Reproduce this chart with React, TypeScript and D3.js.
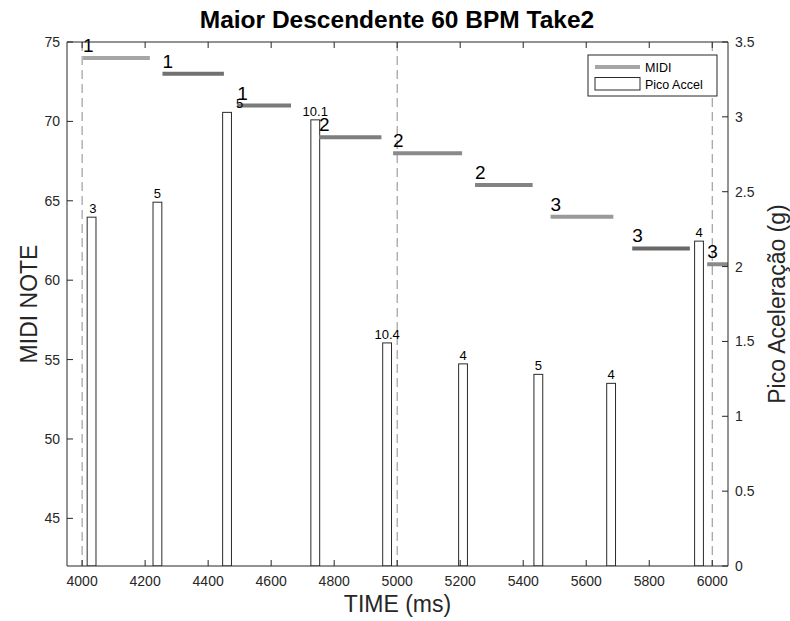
import React from "react";
import * as d3 from "d3";

// ---- data ----
const midiStart = [4003, 4255, 4492, 4752, 4987, 5247, 5487, 5746, 5984];
const midiEnd = [4215, 4450, 4663, 4950, 5206, 5430, 5686, 5929, 6200];
const midiNote = [74, 73, 71, 69, 68, 66, 64, 62, 61];
const midiLabel = ["1", "1", "1", "2", "2", "2", "3", "3", "3"];
const midiGray = ["#a6a6a6", "#717171", "#7a7a7a", "#7e7e7e", "#8a8a8a", "#838383", "#999999", "#686868", "#8a8a8a"];

const accelTime = [4030, 4239, 4460, 4740, 4968, 5209, 5448, 5679, 5958];
const accelPeak = [2.33, 2.43, 3.03, 2.98, 1.49, 1.35, 1.28, 1.22, 2.17];
const accelLabel = ["3", "5", "5", "10.1", "10.4", "4", "5", "4", "4"];
const accelLabelTime = [4034, 4239, 4500, 4740, 4968, 5209, 5448, 5679, 5958];
const barWidthMs = 28;

const xTicks = [4000, 4200, 4400, 4600, 4800, 5000, 5200, 5400, 5600, 5800, 6000];
const yLeftTicks = [45, 50, 55, 60, 65, 70, 75];
const yRightTicks = [0, 0.5, 1, 1.5, 2, 2.5, 3, 3.5];
const dashedTimes = [4000, 5000, 6000];

const title = "Maior Descendente 60 BPM Take2";

export default function App() {
  const W = 790, H = 621;
  const L = 67, R = 728, T = 42, B = 566;
  const x = d3.scaleLinear().domain([3952, 6050]).range([L, R]);
  const yL = d3.scaleLinear().domain([42, 75]).range([B, T]);
  const yR = d3.scaleLinear().domain([0, 3.5]).range([B, T]);
  const font = "'Liberation Sans', Arial, Helvetica, sans-serif";
  const axisColor = "#262626";
  const tick = 6;

  return (
    <svg width={W} height={H} style={{ position: "absolute", left: 0, top: 0, background: "#fff" }} fontFamily={font}>
      <defs>
        <clipPath id="plotClip">
          <rect x={L} y={T} width={R - L} height={B - T} />
        </clipPath>
      </defs>
      <rect x={0} y={0} width={W} height={H} fill="#fff" />
      <g clipPath="url(#plotClip)">
        {dashedTimes.map((t, i) => (
          <line key={"d" + i} x1={x(t)} x2={x(t)} y1={T} y2={B} stroke="#8c8c8c" strokeWidth={1} strokeDasharray="9,5" />
        ))}
        {accelTime.map((t, i) => (
          <rect key={"b" + i} x={x(t - barWidthMs / 2)} y={yR(accelPeak[i])} width={x(t + barWidthMs / 2) - x(t - barWidthMs / 2)} height={yR(0) - yR(accelPeak[i])} fill="#fff" stroke="#2a2a2a" strokeWidth={1} />
        ))}
        {midiStart.map((s, i) => (
          <line key={"m" + i} x1={x(s)} x2={x(midiEnd[i])} y1={yL(midiNote[i])} y2={yL(midiNote[i])} stroke={midiGray[i]} strokeWidth={4} />
        ))}
      </g>
      {accelTime.map((t, i) => (
        <text key={"bl" + i} x={x(accelLabelTime[i])} y={yR(accelPeak[i]) - 4} textAnchor="middle" fontSize={13} fill="#000">
          {accelLabel[i]}
        </text>
      ))}
      {midiStart.map((s, i) => (
        <text key={"ml" + i} x={x(s)} y={yL(midiNote[i]) - 6} fontSize={19} fill="#000">
          {midiLabel[i]}
        </text>
      ))}
      {/* axes box */}
      <line x1={L} x2={R} y1={B} y2={B} stroke={axisColor} />
      <line x1={L} x2={R} y1={T} y2={T} stroke={axisColor} />
      <line x1={L} x2={L} y1={T} y2={B} stroke={axisColor} />
      <line x1={R} x2={R} y1={T} y2={B} stroke={axisColor} />
      {xTicks.map((t) => (
        <g key={"xt" + t}>
          <line x1={x(t)} x2={x(t)} y1={B} y2={B - tick} stroke={axisColor} />
          <line x1={x(t)} x2={x(t)} y1={T} y2={T + tick} stroke={axisColor} />
          <text x={x(t)} y={B + 20} textAnchor="middle" fontSize={14} fill={axisColor}>{t}</text>
        </g>
      ))}
      {yLeftTicks.map((t) => (
        <g key={"yl" + t}>
          <line x1={L} x2={L + tick} y1={yL(t)} y2={yL(t)} stroke={axisColor} />
          <text x={L - 7} y={yL(t) + 5} textAnchor="end" fontSize={14} fill={axisColor}>{t}</text>
        </g>
      ))}
      {yRightTicks.map((t) => (
        <g key={"yr" + t}>
          <line x1={R} x2={R - tick} y1={yR(t)} y2={yR(t)} stroke={axisColor} />
          <text x={R + 7} y={yR(t) + 5} textAnchor="start" fontSize={14} fill={axisColor}>{t}</text>
        </g>
      ))}
      {/* legend */}
      <g>
        <rect x={588} y={55} width={129} height={41} fill="#fff" stroke={axisColor} strokeWidth={1} />
        <line x1={595} x2={640} y1={67} y2={67} stroke="#a6a6a6" strokeWidth={4} />
        <text x={645} y={71.5} fontSize={12.5} fill="#000">MIDI</text>
        <rect x={595} y={77.5} width={45} height={12.5} fill="#fff" stroke="#2a2a2a" />
        <text x={645} y={88.5} fontSize={12.5} fill="#000">Pico Accel</text>
      </g>
      {/* titles */}
      <text x={397} y={28} textAnchor="middle" fontSize={24.5} fontWeight="bold" fill="#000">{title}</text>
      <text x={(L + R) / 2} y={612} textAnchor="middle" fontSize={23} fill={axisColor}>TIME (ms)</text>
      <text transform={`translate(37,${(T + B) / 2}) rotate(-90)`} textAnchor="middle" fontSize={23} fill={axisColor}>MIDI NOTE</text>
      <text transform={`translate(785,${(T + B) / 2}) rotate(-90)`} textAnchor="middle" fontSize={23} fill={axisColor}>Pico Aceleração (g)</text>
    </svg>
  );
}
